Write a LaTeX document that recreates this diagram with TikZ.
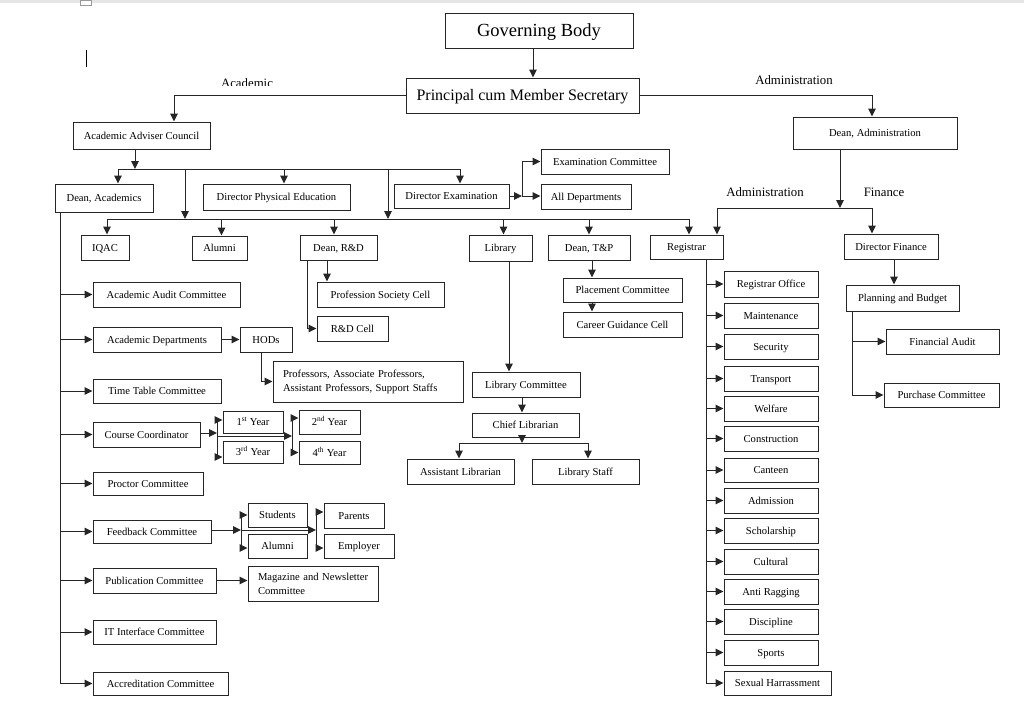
\documentclass[tikz,border=0pt]{standalone}
\usepackage{fontspec}
\setmainfont{Liberation Serif}
\usetikzlibrary{arrows.meta}
\frenchspacing
\newcommand{\mybox}[7][]{\node[box,minimum width={#5pt-#3pt},minimum height={#6pt-#4pt},#1] (#2) at ({(#3+#5)/2},{(#4+#6)/2}) {#7};}
\begin{document}
\begin{tikzpicture}[x=1pt,y=-1pt,
  box/.style={draw=black!85, line width=1pt, inner sep=1pt, font=\fontsize{10.6}{14}\selectfont\frenchspacing, fill=white, text height=9pt, text depth=2pt},
  multi/.style={text height={}, text depth={}, align=left, inner xsep=10pt},
  arr/.style={draw=black!85, line width=1pt, -{Triangle[length=8pt,width=7.5pt]}},
  ln/.style={draw=black!85, line width=1pt},
  lbl/.style={font=\fontsize{12.8}{15}\selectfont, anchor=base}]
\useasboundingbox (0,0) rectangle (1024,715);
\fill[white] (0,0) rectangle (1024,715);
\fill[black!10] (0,0) rectangle (1024,3);
\draw[black!40, fill=white] (80,0) rectangle (91,5);
\draw[black, line width=0.9pt] (86.5,50) -- (86.5,67);

% ---------- boxes ----------
\mybox[font=\fontsize{18.5}{22}\selectfont, text height=15pt, text depth=4pt]{gb}{445}{13}{633}{48}{Governing Body}
\mybox[font=\fontsize{16}{19}\selectfont, text height=12.5pt, text depth=3.5pt]{prin}{406}{78}{639}{113}{Principal cum Member Secretary}
\mybox{aac}{73}{122}{210}{149}{Academic Adviser Council}
\mybox{dadm}{793}{117}{957}{149}{Dean, Administration}
\mybox{dac}{55}{184}{153}{212}{Dean, Academics}
\mybox{dpe}{203}{184}{350}{210}{Director Physical Education}
\mybox{dex}{394}{184}{509}{208}{Director Examination}
\mybox{exc}{541}{149}{669}{174}{Examination Committee}
\mybox{alld}{541}{184}{631}{209}{All Departments}
\mybox{iqac}{81}{235}{129}{260}{IQAC}
\mybox{alum}{192}{236}{247}{260}{Alumni}
\mybox{drd}{300}{235}{377}{260}{Dean, R\&D}
\mybox{lib}{469}{235}{532}{261}{Library}
\mybox{tp}{548}{235}{630}{260}{Dean, T\&P}
\mybox{reg}{650}{235}{723}{259}{Registrar}
\mybox{dfin}{844}{234}{938}{259}{Director Finance}
\mybox{psc}{317}{282}{444}{307}{Profession Society Cell}
\mybox{rdc}{317}{316}{388}{341}{R\&D Cell}
\mybox{pl}{563}{278}{682}{302}{Placement Committee}
\mybox{cg}{563}{312}{682}{337}{Career Guidance Cell}
\mybox{lc}{472}{372}{580}{397}{Library Committee}
\mybox{cl}{472}{413}{579}{437}{Chief Librarian}
\mybox{al}{407}{459}{514}{484}{Assistant Librarian}
\mybox{ls}{532}{459}{639}{484}{Library Staff}
\mybox{pb}{846}{285}{959}{311}{Planning and Budget}
\mybox{fa}{886}{329}{999}{354}{Financial Audit}
\mybox{pc}{884}{383}{999}{407}{Purchase Committee}
\mybox{aud}{93}{282}{240}{307}{Academic Audit Committee}
\mybox{ad}{93}{327}{221}{352}{Academic Departments}
\mybox{hod}{240}{327}{292}{352}{HODs}
\mybox[multi, text width=170pt]{prof}{273}{361}{463}{402}{Professors, Associate Professors,\\Assistant Professors, Support Staffs}
\mybox{tt}{93}{379}{221}{403}{Time Table Committee}
\mybox{cc}{93}{422}{200}{447}{Course Coordinator}
\mybox{y1}{223}{411}{283}{433}{1\textsuperscript{st} Year}
\mybox{y3}{223}{441}{283}{463}{3\textsuperscript{rd} Year}
\mybox{y2}{299}{410}{360}{434}{2\textsuperscript{nd} Year}
\mybox{y4}{299}{441}{360}{464}{4\textsuperscript{th} Year}
\mybox{proc}{93}{472}{203}{495}{Proctor Committee}
\mybox{fc}{93}{520}{211}{543}{Feedback Committee}
\mybox{st}{248}{503}{307}{527}{Students}
\mybox{al2}{248}{534}{307}{558}{Alumni}
\mybox{par}{324}{503}{384}{528}{Parents}
\mybox{emp}{324}{534}{394}{558}{Employer}
\mybox{pub}{93}{568}{216}{593}{Publication Committee}
\mybox[multi, text width=116pt, inner xsep=7pt]{mag}{248}{566}{378}{601}{\hspace*{3pt}Magazine and Newsletter\\\hspace*{3pt}Committee}
\mybox{it}{93}{620}{216}{644}{IT Interface Committee}
\mybox{acc}{93}{672}{228}{695}{Accreditation Committee}
\mybox{r1}{724}{271}{818}{297}{Registrar Office}
\mybox{r2}{724}{303}{818}{328}{Maintenance}
\mybox{r3}{724}{334}{818}{359}{Security}
\mybox{r4}{724}{366}{818}{391}{Transport}
\mybox{r5}{724}{396}{818}{421}{Welfare}
\mybox{r6}{724}{426}{818}{451}{Construction}
\mybox{r7}{724}{458}{818}{482}{Canteen}
\mybox{r8}{724}{488}{818}{513}{Admission}
\mybox{r9}{724}{518}{818}{543}{Scholarship}
\mybox{r10}{724}{549}{818}{574}{Cultural}
\mybox{r11}{724}{579}{818}{604}{Anti Ragging}
\mybox{r12}{724}{609}{818}{634}{Discipline}
\mybox{r13}{724}{640}{818}{665}{Sports}
\mybox{r14}{724}{671}{831}{695}{Sexual Harrassment}

% ---------- labels ----------
\begin{scope}
\clip (200,60) rectangle (300,85.5);
\node[lbl] (lacad) at (247,87) {Academic};
\end{scope}
\node[lbl] (ladm) at (794,84) {Administration};
\node[lbl] (ladm2) at (765,196) {Administration};
\node[lbl] (lfin) at (884,196) {Finance};

% ---------- connectors ----------
\draw[arr] ([xshift=-6pt]gb.south) -- ([xshift=-6pt]gb.south |- prin.north);
\draw[arr] (prin.west) -| ([xshift=32.5pt]aac.north);
\draw[arr] (prin.east) -| ([xshift=-3pt]dadm.north);

\coordinate (b1L) at (118,169);
\coordinate (b1R) at (460,169);
\coordinate (v1) at (185,169);
\coordinate (v2) at (388,169);
\coordinate (b2L) at (107,219);
\coordinate (b2R) at (689,219);
\draw[arr] ([xshift=-6.5pt]aac.south) -- ([xshift=-6.5pt]aac.south |- b1L);
\draw[ln] (b1L) -- (b1R);
\draw[arr] (b1L) -- (b1L |- dac.north);
\draw[arr] ([xshift=7.5pt]dpe.north |- b1L) -- ([xshift=7.5pt]dpe.north);
\draw[arr] (b1R) -- (b1R |- dex.north);
\draw[arr] (v1) -- (v1 |- b2L);
\draw[arr] (v2) -- (v2 |- b2L);
\draw[ln] (b2L) -- (b2R);
\draw[arr] (b2L) -- (b2L |- iqac.north);
\draw[arr] ([xshift=2pt]alum.north |- b2L) -- ([xshift=2pt]alum.north);
\draw[arr] ([xshift=-4.5pt]drd.north |- b2L) -- ([xshift=-4.5pt]drd.north);
\draw[arr] ([xshift=3pt]lib.north |- b2L) -- ([xshift=3pt]lib.north);
\draw[arr] (tp.north |- b2L) -- (tp.north);
\draw[arr] (b2R) -- (b2R |- reg.north);

\coordinate (jx) at (522,196);
\draw[arr] (dex.east |- jx) -- (jx);
\draw[arr] (jx) -- (jx -| alld.west);
\draw[arr] (jx) |- (exc.west);

\coordinate (b3L) at (717,208);
\coordinate (b3R) at (872,208);
\draw[arr] ([xshift=-35pt]dadm.south) -- ([xshift=-35pt]dadm.south |- b3L);
\draw[ln] (b3L) -- (b3R);
\draw[arr] (b3L) -- (b3L |- reg.north);
\draw[arr] (b3R) -- (b3R |- dfin.north);
\draw[arr] ([xshift=3pt]dfin.south) -- ([xshift=3pt]dfin.south |- pb.north);
\draw[arr] ([xshift=-50.5pt]pb.south) |- (fa.west);
\draw[arr] ([xshift=-50.5pt]pb.south) |- (pc.west);

\foreach \n in {r1,r2,r3,r4,r5,r6,r7,r8,r9,r10,r11,r12,r13,r14}
  \draw[arr] ([xshift=19.5pt]reg.south) |- (\n.west);

\draw[arr] ([xshift=-11.5pt]drd.south) -- ([xshift=-11.5pt]drd.south |- psc.north);
\draw[arr] ([xshift=-31.5pt]drd.south) |- (rdc.west);

\draw[arr] ([xshift=3pt]tp.south) -- ([xshift=3pt]tp.south |- pl.north);
\draw[arr] ([xshift=3pt]tp.south |- pl.south) -- ([xshift=3pt]tp.south |- cg.north);

\draw[arr] ([xshift=8.5pt]lib.south) -- ([xshift=8.5pt]lib.south |- lc.north);
\draw[arr] ([xshift=-4pt]lc.south) -- ([xshift=-4pt]lc.south |- cl.north);
\coordinate (b4L) at (459,443);
\coordinate (b4R) at (588,443);
\draw[arr] ([xshift=-3.5pt]cl.south) -- ([xshift=-3.5pt]cl.south |- b4L);
\draw[ln] (b4L) -- (b4R);
\draw[arr] (b4L) -- (b4L |- al.north);
\draw[arr] (b4R) -- (b4R |- ls.north);

\foreach \n in {aud,ad,tt,cc,proc,fc,pub,it,acc}
  \draw[arr] ([xshift=-44pt]dac.south) |- (\n.west);
\draw[arr] (ad.east) -- (hod.west);
\draw[arr] ([xshift=-5pt]hod.south) |- (prof.west);

\coordinate (c1) at (217,433);
\coordinate (c2) at (292,436);
\draw[arr] (cc.east |- c1) -- (c1);
\draw[arr] (c1) |- ([yshift=2pt]y1.west);
\draw[arr] (c1) |- ([yshift=-5pt]y3.west);
\draw[arr] (c1 |- c2) -- (c2);
\draw[arr] (c2) |- ([yshift=4pt]y2.west);
\draw[arr] (c2) |- (y4.west);

\coordinate (f1) at (241,530);
\coordinate (f2) at (316,530);
\draw[arr] (fc.east |- f1) -- (f1);
\draw[arr] (f1) |- (st.west);
\draw[arr] (f1) |- ([yshift=-2pt]al2.west);
\draw[arr] (f1) -- (f2);
\draw[arr] (f2) |- ([yshift=3.5pt]par.west);
\draw[arr] (f2) |- ([yshift=-2pt]emp.west);

\draw[arr] (pub.east) -- (pub.east -| mag.west);
\end{tikzpicture}
\end{document}
